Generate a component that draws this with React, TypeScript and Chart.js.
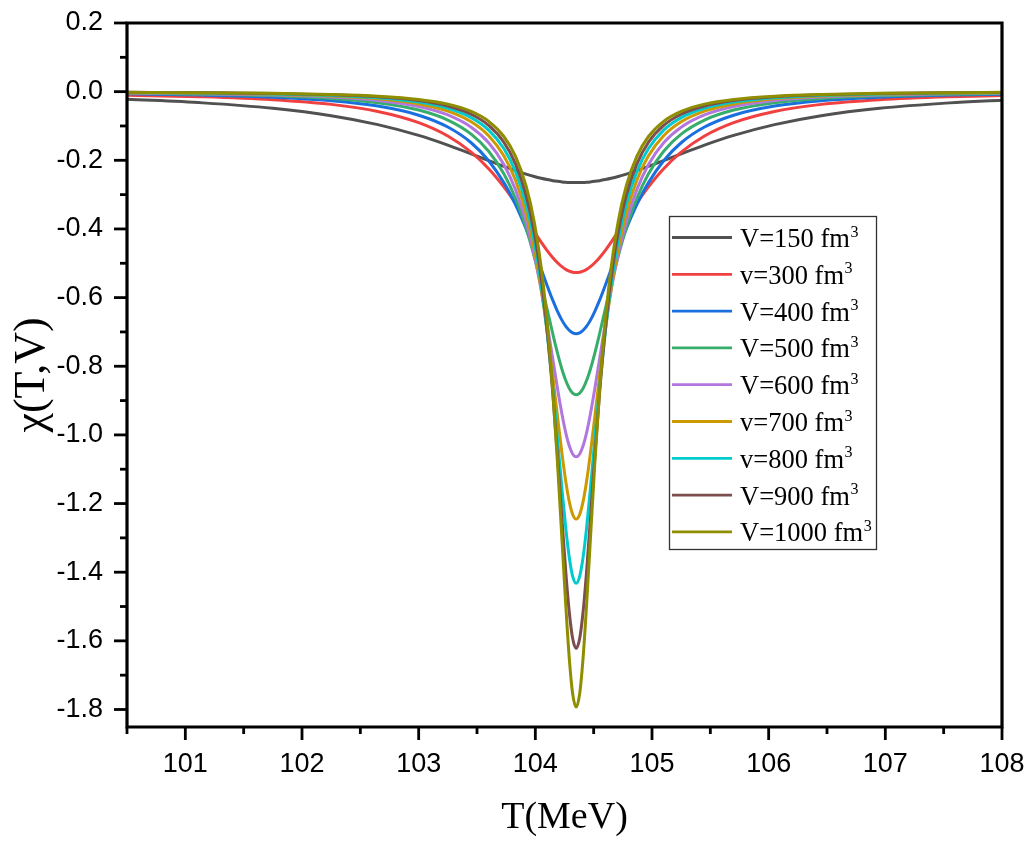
import React, { useEffect, useRef } from "react";
import { Chart, registerables } from "chart.js";

Chart.register(...registerables);

// Temperature grid (MeV)
const temperatureMeV = [
  100.5, 101.15, 101.75, 102.25, 102.65, 103.0, 103.25, 103.45, 103.6, 103.73, 103.83,
  103.92, 103.99, 104.05, 104.1, 104.15, 104.19, 104.23, 104.26, 104.29, 104.32, 104.35,
  104.38, 104.41, 104.44, 104.47, 104.51, 104.55, 104.6, 104.65, 104.71, 104.78, 104.87,
  104.97, 105.1, 105.25, 105.45, 105.7, 106.05, 106.45, 106.95, 107.55, 108.0,
];

const chiV150 = [
  -0.0221, -0.0327, -0.0486, -0.07, -0.096, -0.1275, -0.1557, -0.1811, -0.201, -0.2179, -0.2302,
  -0.2402, -0.2472, -0.2524, -0.2561, -0.2593, -0.2613, -0.2629, -0.2638, -0.2645, -0.2649, -0.265,
  -0.2649, -0.2645, -0.2638, -0.2629, -0.2613, -0.2593, -0.2561, -0.2524, -0.2472, -0.2402, -0.2302,
  -0.2179, -0.201, -0.1811, -0.1557, -0.1275, -0.096, -0.07, -0.0486, -0.0327, -0.0248,
];
const chiV300 = [
  -0.0105, -0.015, -0.0235, -0.0371, -0.0576, -0.0901, -0.1291, -0.1761, -0.2244, -0.2772, -0.3244,
  -0.3707, -0.4076, -0.4384, -0.4624, -0.4839, -0.4986, -0.5107, -0.5177, -0.5228, -0.526, -0.527,
  -0.526, -0.5228, -0.5177, -0.5107, -0.4986, -0.4839, -0.4624, -0.4384, -0.4076, -0.3707, -0.3244,
  -0.2772, -0.2244, -0.1761, -0.1291, -0.0901, -0.0576, -0.0371, -0.0235, -0.015, -0.0115,
];
const chiV400 = [
  -0.0064, -0.01, -0.0162, -0.0264, -0.0421, -0.0686, -0.1031, -0.1489, -0.2012, -0.2651, -0.3293,
  -0.3994, -0.4611, -0.517, -0.5638, -0.6082, -0.64, -0.6671, -0.6832, -0.6951, -0.7025, -0.705,
  -0.7025, -0.6951, -0.6832, -0.6671, -0.64, -0.6082, -0.5638, -0.517, -0.4611, -0.3994, -0.3293,
  -0.2651, -0.2012, -0.1489, -0.1031, -0.0686, -0.0421, -0.0264, -0.0162, -0.01, -0.0073,
];
const chiV500 = [
  -0.0047, -0.0075, -0.0121, -0.0199, -0.0322, -0.0536, -0.0827, -0.1237, -0.1736, -0.2394, -0.3113,
  -0.3971, -0.4795, -0.5604, -0.6328, -0.7061, -0.7617, -0.8108, -0.841, -0.8639, -0.8781, -0.883,
  -0.8781, -0.8639, -0.841, -0.8108, -0.7617, -0.7061, -0.6328, -0.5604, -0.4795, -0.3971, -0.3113,
  -0.2394, -0.1736, -0.1237, -0.0827, -0.0536, -0.0322, -0.0199, -0.0121, -0.0075, -0.0054,
];
const chiV600 = [
  -0.0037, -0.0058, -0.0095, -0.0157, -0.0256, -0.0432, -0.0678, -0.1035, -0.149, -0.2121, -0.2855,
  -0.3791, -0.4758, -0.5777, -0.6753, -0.7803, -0.8647, -0.9427, -0.9925, -1.0311, -1.0556, -1.064,
  -1.0556, -1.0311, -0.9925, -0.9427, -0.8647, -0.7803, -0.6753, -0.5777, -0.4758, -0.3791, -0.2855,
  -0.2121, -0.149, -0.1035, -0.0678, -0.0432, -0.0256, -0.0157, -0.0095, -0.0058, -0.0042,
];
const chiV700 = [
  -0.003, -0.0047, -0.0078, -0.0128, -0.021, -0.0357, -0.0566, -0.0877, -0.1284, -0.1869, -0.258,
  -0.3536, -0.4583, -0.5754, -0.6943, -0.8306, -0.9464, -1.0589, -1.1336, -1.1931, -1.2317, -1.245,
  -1.2317, -1.1931, -1.1336, -1.0589, -0.9464, -0.8306, -0.6943, -0.5754, -0.4583, -0.3536, -0.258,
  -0.1869, -0.1284, -0.0877, -0.0566, -0.0357, -0.021, -0.0128, -0.0078, -0.0047, -0.0034,
];
const chiV800 = [
  -0.0025, -0.004, -0.0065, -0.0108, -0.0177, -0.0303, -0.0483, -0.0755, -0.1119, -0.1656, -0.2329,
  -0.3272, -0.4353, -0.5624, -0.6986, -0.8637, -1.0121, -1.1638, -1.2688, -1.355, -1.412, -1.432,
  -1.412, -1.355, -1.2688, -1.1638, -1.0121, -0.8637, -0.6986, -0.5624, -0.4353, -0.3272, -0.2329,
  -0.1656, -0.1119, -0.0755, -0.0483, -0.0303, -0.0177, -0.0108, -0.0065, -0.004, -0.0029,
];
const chiV900 = [
  -0.0021, -0.0034, -0.0056, -0.0092, -0.0152, -0.0261, -0.0419, -0.0659, -0.0985, -0.1475, -0.2104,
  -0.3014, -0.4095, -0.5422, -0.691, -0.8809, -1.0609, -1.2545, -1.3944, -1.513, -1.5934, -1.622,
  -1.5934, -1.513, -1.3944, -1.2545, -1.0609, -0.8809, -0.691, -0.5422, -0.4095, -0.3014, -0.2104,
  -0.1475, -0.0985, -0.0659, -0.0419, -0.0261, -0.0152, -0.0092, -0.0056, -0.0034, -0.0024,
];
const chiV1000 = [
  -0.0018, -0.0029, -0.0048, -0.008, -0.0131, -0.0226, -0.0363, -0.0575, -0.0864, -0.1307, -0.1885,
  -0.274, -0.3788, -0.5119, -0.6671, -0.8746, -1.0814, -1.3151, -1.4915, -1.6464, -1.7541, -1.793,
  -1.7541, -1.6464, -1.4915, -1.3151, -1.0814, -0.8746, -0.6671, -0.5119, -0.3788, -0.274, -0.1885,
  -0.1307, -0.0864, -0.0575, -0.0363, -0.0226, -0.0131, -0.008, -0.0048, -0.0029, -0.0021,
];

const seriesLabels = [
  "V=150 fm³", "v=300 fm³", "V=400 fm³", "V=500 fm³", "V=600 fm³",
  "v=700 fm³", "v=800 fm³", "V=900 fm³", "V=1000 fm³",
];
const seriesColors = [
  "#515151", "#F14040", "#1A6FDF", "#37AD6B", "#B177DE",
  "#CC9900", "#00CBCC", "#7D4E4E", "#8E8E00",
];
const seriesValues = [chiV150, chiV300, chiV400, chiV500, chiV600, chiV700, chiV800, chiV900, chiV1000];

const xMajorTicks = [101, 102, 103, 104, 105, 106, 107, 108];
const xMinorTicks = [100.5, 101.5, 102.5, 103.5, 104.5, 105.5, 106.5, 107.5];
const yMajorTicks = [-1.8, -1.6, -1.4, -1.2, -1.0, -0.8, -0.6, -0.4, -0.2, 0.0, 0.2];
const yMinorTicks = [-1.7, -1.5, -1.3, -1.1, -0.9, -0.7, -0.5, -0.3, -0.1, 0.1];

const SANS = 'Arial, "Liberation Sans", sans-serif';
const SERIF = '"Times New Roman", "Liberation Serif", serif';

const framePlugin = {
  id: "originFrame",
  afterDatasetsDraw(chart: any) {
    const { ctx, chartArea, scales } = chart;
    const { left, right, top, bottom } = chartArea;
    ctx.save();
    ctx.strokeStyle = "#000";
    ctx.lineWidth = 3.2;
    ctx.lineCap = "butt";
    ctx.beginPath();
    ctx.rect(left, top, right - left, bottom - top);
    ctx.stroke();
    const seg = (x1: number, y1: number, x2: number, y2: number) => {
      ctx.beginPath();
      ctx.moveTo(x1, y1);
      ctx.lineTo(x2, y2);
      ctx.stroke();
    };
    ctx.lineWidth = 2.8;
    xMajorTicks.forEach((v) => {
      const px = scales.x.getPixelForValue(v);
      seg(px, bottom, px, bottom + 13);
    });
    xMinorTicks.forEach((v) => {
      const px = scales.x.getPixelForValue(v);
      seg(px, bottom, px, bottom + 7);
    });
    yMajorTicks.forEach((v) => {
      const py = scales.y.getPixelForValue(v);
      seg(left, py, left - 13, py);
    });
    yMinorTicks.forEach((v) => {
      const py = scales.y.getPixelForValue(v);
      seg(left, py, left - 7, py);
    });
    ctx.restore();
  },
};

const legendPlugin = {
  id: "boxLegend",
  afterDraw(chart: any) {
    const { ctx, chartArea } = chart;
    const bx = chartArea.left + 542;
    const by = chartArea.top + 193;
    const bw = 207;
    const bh = 333;
    ctx.save();
    ctx.fillStyle = "#fff";
    ctx.fillRect(bx, by, bw, bh);
    ctx.strokeStyle = "#333";
    ctx.lineWidth = 1.3;
    ctx.strokeRect(bx + 0.5, by + 0.5, bw, bh);
    chart.data.datasets.forEach((ds: any, i: number) => {
      const cy = by + 21.5 + i * 36.8;
      ctx.strokeStyle = ds.borderColor;
      ctx.lineWidth = 2.8;
      ctx.beginPath();
      ctx.moveTo(bx + 3, cy);
      ctx.lineTo(bx + 63, cy);
      ctx.stroke();
      const label: string = ds.label;
      const hasSup = label.endsWith("³");
      const main = hasSup ? label.slice(0, -1) : label;
      ctx.fillStyle = "#000";
      ctx.textAlign = "left";
      ctx.textBaseline = "alphabetic";
      ctx.font = `26.5px ${SERIF}`;
      ctx.fillText(main, bx + 71, cy + 9.5);
      if (hasSup) {
        const w = ctx.measureText(main).width;
        ctx.font = `16px ${SERIF}`;
        ctx.fillText("3", bx + 71 + w + 0.5, cy - 1);
      }
    });
    ctx.restore();
  },
};

export default function App() {
  const canvasRef = useRef<HTMLCanvasElement | null>(null);

  useEffect(() => {
    const canvas = canvasRef.current;
    if (!canvas) return;
    const datasets = seriesValues.map((vals, i) => ({
      label: seriesLabels[i],
      data: temperatureMeV.map((t, j) => ({ x: t, y: vals[j] })),
      borderColor: seriesColors[i],
      backgroundColor: seriesColors[i],
      borderWidth: 3,
      pointRadius: 0,
      cubicInterpolationMode: "monotone" as const,
      fill: false,
      order: seriesValues.length - 1 - i,
    }));

    const chart = new Chart(canvas, {
      type: "line",
      data: { datasets },
      plugins: [framePlugin, legendPlugin],
      options: {
        responsive: false,
        animation: false,
        devicePixelRatio: 1,
        layout: { padding: { left: 0, top: 23, right: 30, bottom: 0 } },
        plugins: {
          legend: { display: false },
          tooltip: { enabled: false },
        },
        scales: {
          x: {
            type: "linear",
            min: 100.5,
            max: 108,
            afterBuildTicks: (scale: any) => {
              scale.ticks = xMajorTicks.map((v) => ({ value: v }));
            },
            afterFit: (scale: any) => {
              scale.height = 114;
              scale.paddingLeft = 0;
              scale.paddingRight = 0;
            },
            grid: { display: false, drawTicks: false },
            border: { display: false },
            ticks: {
              color: "#000",
              padding: 21,
              font: { family: SANS, size: 27 },
              maxRotation: 0,
              autoSkip: false,
              callback: (v: any) => String(v),
            },
            title: {
              display: true,
              text: "T(MeV)",
              color: "#000",
              font: { family: SERIF, size: 38, weight: "normal" },
              padding: { top: 0, bottom: 0 },
            },
          },
          y: {
            type: "linear",
            min: -1.851,
            max: 0.2,
            afterBuildTicks: (scale: any) => {
              scale.ticks = yMajorTicks.map((v) => ({ value: v }));
            },
            afterFit: (scale: any) => {
              scale.width = 127;
              scale.paddingTop = 0;
              scale.paddingBottom = 0;
            },
            grid: { display: false, drawTicks: false },
            border: { display: false },
            ticks: {
              color: "#000",
              padding: 24,
              font: { family: SANS, size: 27 },
              autoSkip: false,
              callback: (v: any) => Number(v).toFixed(1),
            },
            title: {
              display: true,
              text: "χ(T,V)",
              color: "#000",
              font: { family: SERIF, size: 44, weight: "normal" },
              padding: { top: 6, bottom: 0 },
            },
          },
        },
      },
    });
    return () => chart.destroy();
  }, []);

  return (
    <div style={{ position: "absolute", left: 0, top: 0, width: 1032, height: 841, background: "#fff" }}>
      <canvas ref={canvasRef} width={1032} height={841} style={{ display: "block" }} />
    </div>
  );
}
